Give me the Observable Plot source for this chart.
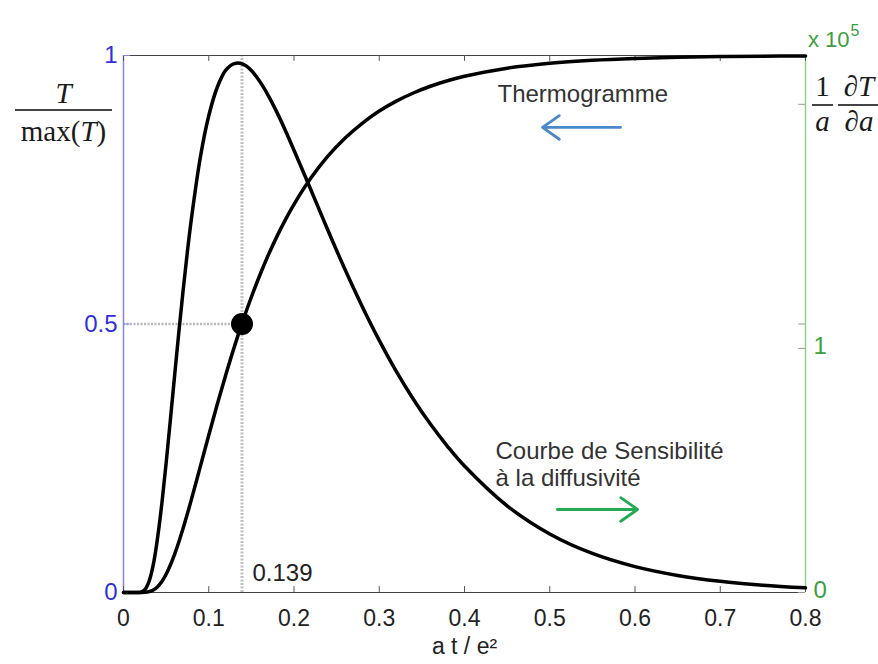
<!DOCTYPE html>
<html><head><meta charset="utf-8">
<script src="https://cdn.jsdelivr.net/npm/d3@7"></script>
<script src="https://cdn.jsdelivr.net/npm/@observablehq/plot@0.6"></script>
<style>
body{margin:0;background:#fff;}
#wrap{position:relative;width:878px;height:664px;font-family:"Liberation Sans",Arial,sans-serif;overflow:hidden;}
.abs{position:absolute;}
.frac{position:absolute;display:flex;flex-direction:column;align-items:center;font-family:"Liberation Serif","Times New Roman",serif;color:#1a1a1a;font-size:29px;}
.frac .num,.frac .den{line-height:28px;white-space:nowrap;}
.frac .bar{height:2px;background:#444;align-self:stretch;}
</style></head><body><div id="wrap"></div>
<script>
// reduced time a t / e²
const tValues = [0, 0.01, 0.02, 0.025, 0.03, 0.035, 0.04, 0.045, 0.05, 0.055, 0.06, 0.065, 0.07, 0.075, 0.08, 0.09, 0.10, 0.11, 0.12, 0.13, 0.14, 0.15, 0.16, 0.17, 0.18, 0.19, 0.20, 0.22, 0.24, 0.26, 0.28, 0.30, 0.32, 0.34, 0.36, 0.38, 0.40, 0.45, 0.50, 0.55, 0.60, 0.65, 0.70, 0.75, 0.80];
// thermogram T / max(T) (left axis)
const thermoValues = [0, 0, 0.0000, 0.0003, 0.0016, 0.0048, 0.0109, 0.0206, 0.0340, 0.0511, 0.0714, 0.0946, 0.1199, 0.1470, 0.1753, 0.2339, 0.2929, 0.3505, 0.4055, 0.4574, 0.5057, 0.5503, 0.5913, 0.6289, 0.6632, 0.6944, 0.7229, 0.7723, 0.8130, 0.8464, 0.8738, 0.8965, 0.9150, 0.9302, 0.9427, 0.9530, 0.9614, 0.9764, 0.9856, 0.9912, 0.9946, 0.9967, 0.9980, 0.9988, 0.9993];
// sensitivity (1/a) dT/da, x 10^5 (right axis)
const sensValues = [0, 0, 0.001, 0.012, 0.046, 0.115, 0.225, 0.365, 0.530, 0.708, 0.890, 1.070, 1.240, 1.398, 1.540, 1.780, 1.953, 2.070, 2.140, 2.167, 2.165, 2.139, 2.093, 2.035, 1.967, 1.892, 1.812, 1.648, 1.482, 1.322, 1.172, 1.033, 0.906, 0.792, 0.690, 0.599, 0.518, 0.355, 0.240, 0.160, 0.106, 0.070, 0.046, 0.030, 0.019];

const xTicks = [0, 0.1, 0.2, 0.3, 0.4, 0.5, 0.6, 0.7, 0.8];
const leftTicks = [0, 0.5, 1];
const rightTicks = [0, 1, 2];
const rightTickLabels = ["0", "1", ""];
const rightMax = 2.2;
const halfPoint = [{x: 0.139, y: 0.5}];
const halfLabel = [{x: 0.1513, y: 0.035, text: "0.139"}];
const notes = [
  {x: 0.4387, y: 0.927, text: "Thermogramme"},
  {x: 0.4364, y: 0.2626, text: "Courbe de Sensibilité"},
  {x: 0.4364, y: 0.2123, text: "à la diffusivité"}
];
const arrowsData = [
  {x1: 0.583, x2: 0.4915, y1: 0.866, y2: 0.866, c: "#4a88cc"},
  {x1: 0.509, x2: 0.603, y1: 0.1546, y2: 0.1546, c: "#22aa55"}
];
const xLabel = "a t / e²";

const thermo = tValues.map((t, i) => ({t, v: thermoValues[i]}));
const sens = tValues.map((t, i) => ({t, v: sensValues[i]}));

const chart = Plot.plot({
  width: 878, height: 664,
  marginLeft: 123, marginRight: 73, marginTop: 55, marginBottom: 72,
  x: {domain: [0, 0.8]},
  y: {domain: [0, 1]},
  style: {fontFamily: "Liberation Sans, Arial, sans-serif", fontSize: "24px", background: "transparent", overflow: "visible"},
  marks: [
    // guide lines at half rise
    Plot.ruleY(halfPoint, {y: "y", x1: 0, x2: "x", stroke: "#b8b8b8", strokeWidth: 2.5, strokeDasharray: "2,1.5"}),
    Plot.ruleX(halfPoint, {x: "x", y1: 0, y2: 1, stroke: "#c0c0c0", strokeWidth: 3, strokeDasharray: "2,1.5"}),
    // frame
    Plot.ruleY([0], {stroke: "#444", strokeWidth: 1.2}),
    Plot.ruleY([1], {stroke: "#444", strokeWidth: 1.2}),
    Plot.ruleX([0], {stroke: "#8585f0", strokeWidth: 1.5}),
    Plot.ruleX([0.8], {stroke: "#8cd48c", strokeWidth: 1.5}),
    // inward ticks
    Plot.ruleX(xTicks, {y1: 0, y2: 0.011, stroke: "#555"}),
    Plot.ruleX(xTicks, {y1: 1, y2: 0.989, stroke: "#555"}),
    Plot.ruleY(leftTicks, {x1: 0, x2: 0.008, stroke: "#8585f0"}),
    Plot.ruleY(leftTicks, {x1: 0.8, x2: 0.792, stroke: "#999"}),
    Plot.ruleY(rightTicks, {y: d => d / rightMax, x1: 0.8, x2: 0.792, stroke: "#999"}),
    // curves
    Plot.line(sens, {x: "t", y: d => d.v / rightMax, stroke: "black", strokeWidth: 3.5, curve: "catmull-rom"}),
    Plot.line(thermo, {x: "t", y: "v", stroke: "black", strokeWidth: 3.5, curve: "catmull-rom"}),
    Plot.dot(halfPoint, {x: "x", y: "y", r: 11, fill: "black"}),
    // axes
    Plot.axisX(xTicks, {tickSize: 0, tickPadding: 17, label: null, color: "#222", fontSize: 23, tickFormat: d => String(d)}),
    Plot.axisY(leftTicks, {anchor: "left", tickSize: 0, tickPadding: 6, label: null, color: "#3030dd", fontSize: 24, tickFormat: d => String(d)}),
    Plot.axisY(rightTicks.map(d => d / rightMax), {anchor: "right", tickSize: 0, tickPadding: 8, dy: -2, label: null, color: "#3d9e3d", fontSize: 24, tickFormat: (d) => rightTickLabels[rightTicks.indexOf(Math.round(d * rightMax))]}),
    Plot.text([xLabel], {frameAnchor: "bottom", dy: 61, text: d => d, fontSize: 23, fill: "#222"}),
    // annotations
    Plot.text(halfLabel, {x: "x", y: "y", text: "text", textAnchor: "start", fontSize: 24, fill: "#222"}),
    Plot.text(notes, {x: "x", y: "y", text: "text", textAnchor: "start", fontSize: 24, fill: "#333"}),
    Plot.arrow(arrowsData, {x1: "x1", y1: "y1", x2: "x2", y2: "y2", stroke: "c", strokeWidth: 2.8, headLength: 11, headAngle: 70})
  ]
});

const wrap = document.getElementById("wrap");
chart.style.position = "absolute";
chart.style.left = "0px";
chart.style.top = "0px";
wrap.appendChild(chart);

function add(html) { wrap.insertAdjacentHTML("beforeend", html); }
// left axis label: T / max(T)
add('<div class="frac" style="left:15px;top:79px;width:97px;"><div class="num"><i>T</i></div><div class="bar" style="margin-top:2px"></div><div class="den" style="margin-top:6px">max(<i>T</i>)</div></div>');
// right axis label: (1/a) dT/da
add('<div class="frac" style="left:812px;top:72px;width:21px;"><div class="num" style="margin-bottom:4px">1</div><div class="bar"></div><div class="den" style="margin-top:1px"><i>a</i></div></div>');
add('<div class="frac" style="left:838px;top:72px;width:42px;"><div class="num" style="margin-bottom:4px">∂<i>T</i></div><div class="bar"></div><div class="den" style="margin-top:1px">∂<i>a</i></div></div>');
// exponent of right axis
add('<div class="abs" style="left:808px;top:28px;color:#3d9e3d;font-size:22px;line-height:24px;">x 10<span style="font-size:16px;position:relative;top:-11px;margin-left:1px">5</span></div>');
</script></body></html>
